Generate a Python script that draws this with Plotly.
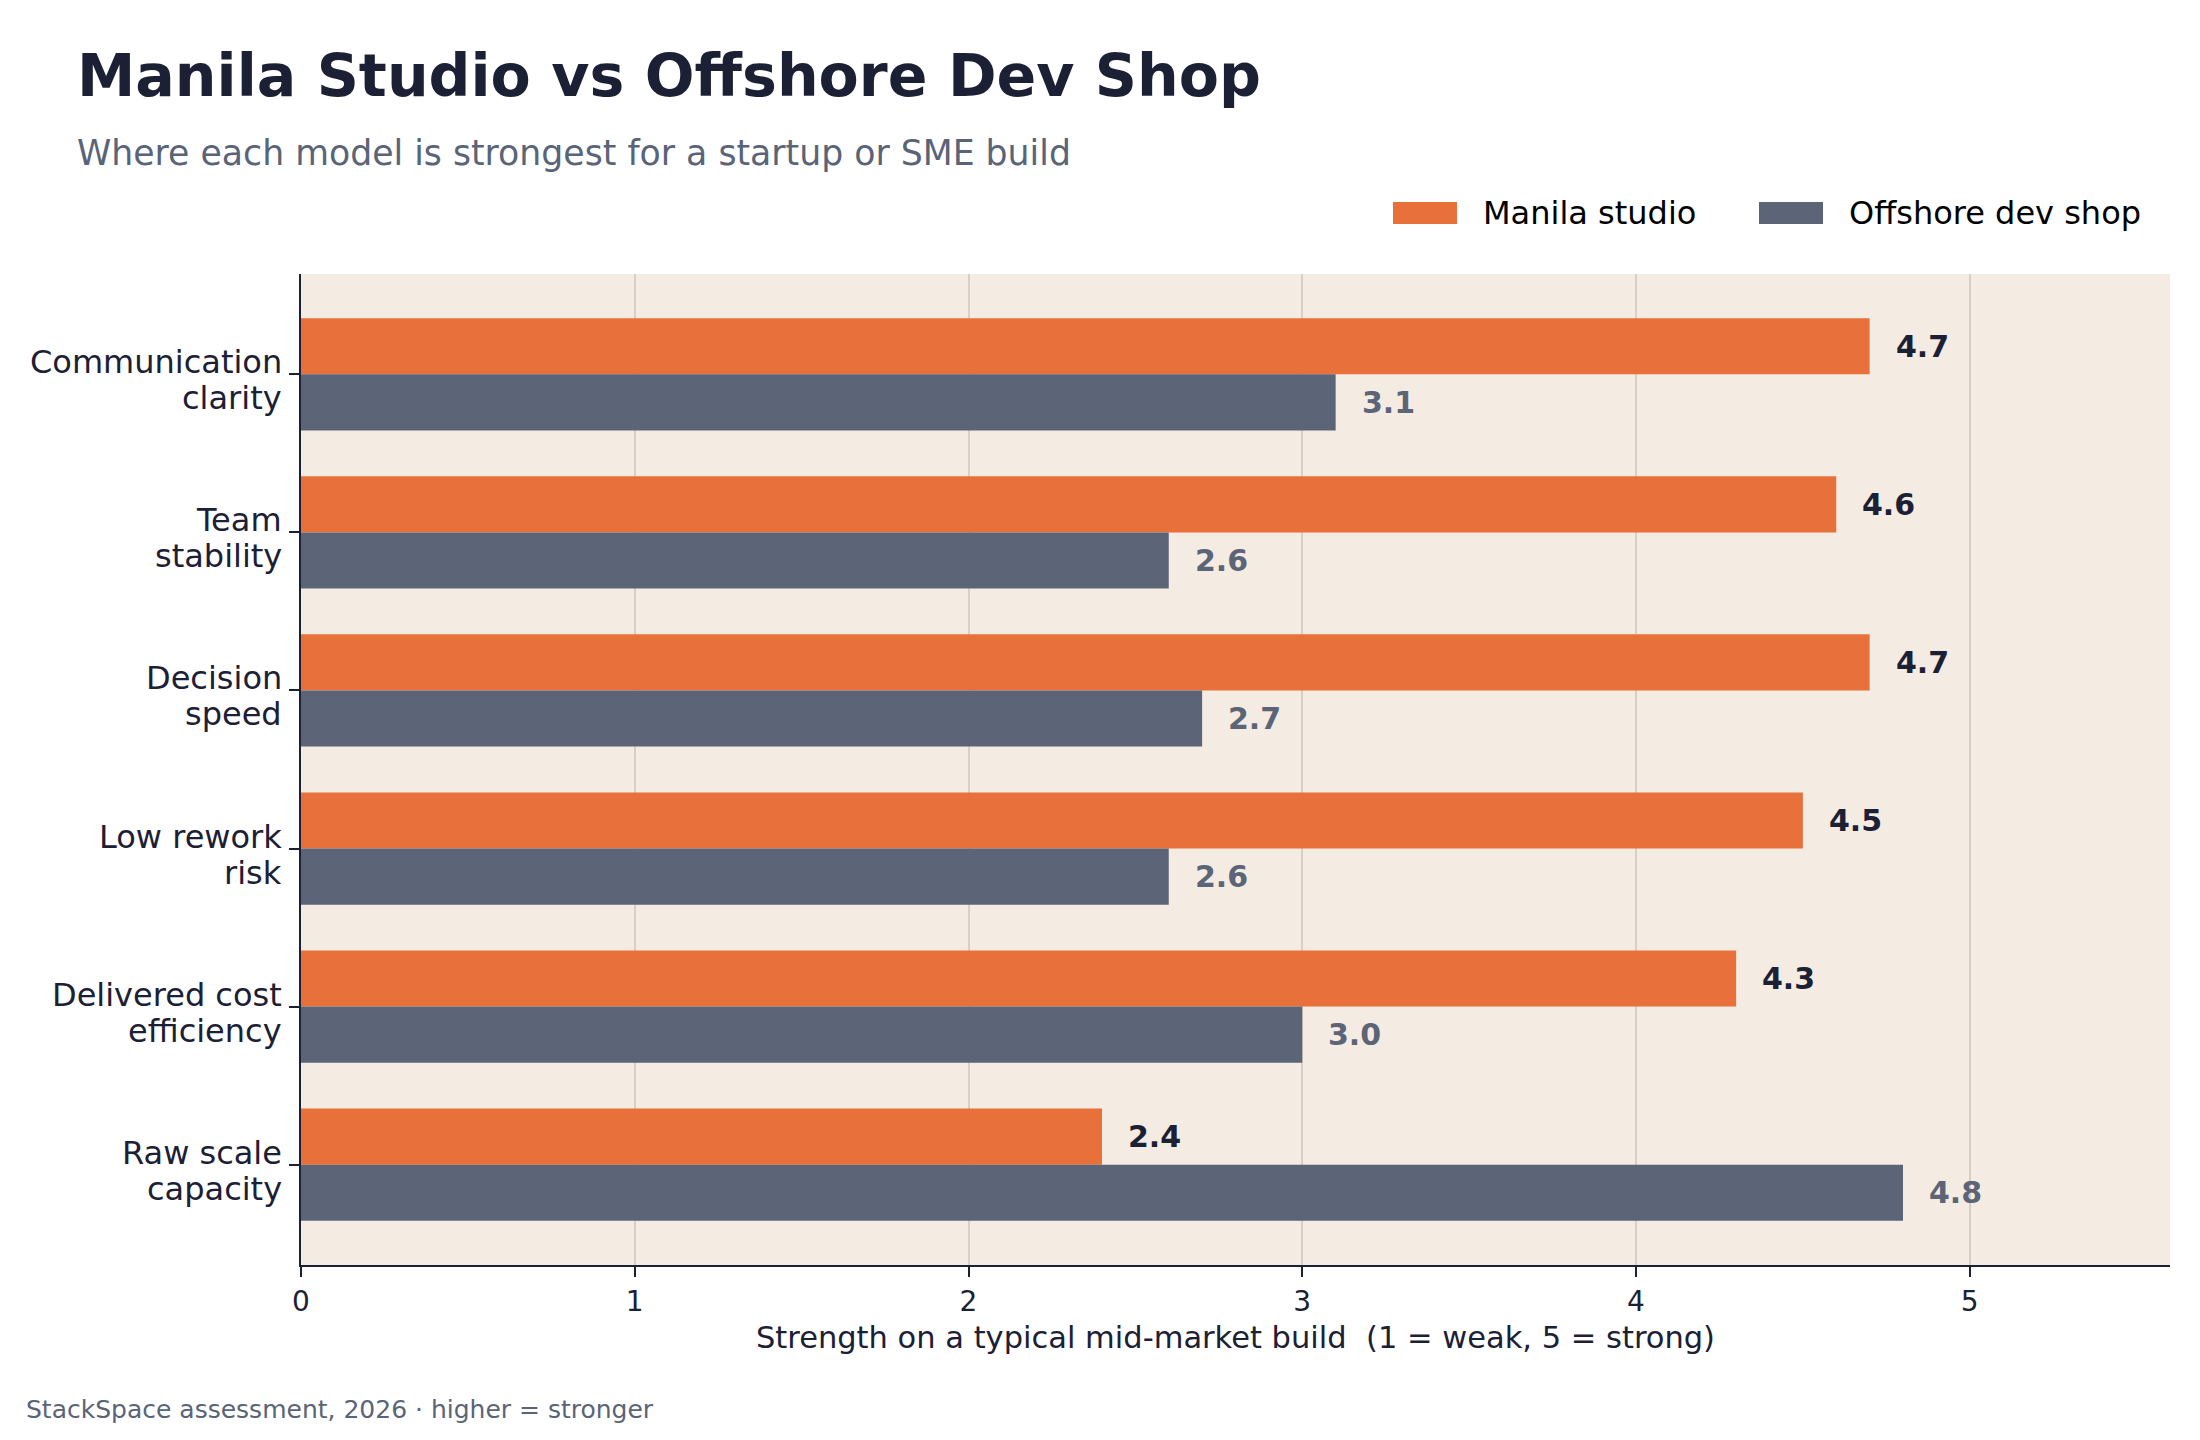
import plotly.graph_objects as go

categories = ["Communication\nclarity", "Team\nstability", "Decision\nspeed",
              "Low rework\nrisk", "Delivered cost\nefficiency", "Raw scale\ncapacity"]
manila = [4.7, 4.6, 4.7, 4.5, 4.3, 2.4]
offshore = [3.1, 2.6, 2.7, 2.6, 3.0, 4.8]
series_names = ["Manila studio", "Offshore dev shop"]
x_ticks = [0, 1, 2, 3, 4, 5]

ORANGE = "#e8703a"
GRAY = "#5c6478"
NAVY = "#1c2035"
SUB = "#5a6478"
BG = "#f4ece2"
GRID = "#d9d0c2"
FONT = "DejaVu Sans"

W, H = 2200, 1440
L, R, T, B = 301, 30, 274, 175
PW, PH = W - L - R, H - T - B

def px(x):
    return (x - L) / PW

def py(y):
    return (H - B - y) / PH

BW = 0.355
idx = list(range(len(categories)))
y_m = [i - BW / 2 for i in idx]
y_o = [i + BW / 2 for i in idx]

fig = go.Figure()
fig.add_trace(go.Bar(x=manila, y=y_m, orientation="h", width=BW, marker_color=ORANGE,
                     marker_line_width=0, name=series_names[0], showlegend=False))
fig.add_trace(go.Bar(x=offshore, y=y_o, orientation="h", width=BW, marker_color=GRAY,
                     marker_line_width=0, name=series_names[1], showlegend=False))

annotations = []
for v, y in zip(manila, y_m):
    annotations.append(dict(x=v, y=y, xref="x", yref="y", text=f"<b>{v:.1f}</b>",
                            showarrow=False, xanchor="left", yanchor="middle", xshift=24,
                            font=dict(family=FONT, size=30, color=NAVY)))
for v, y in zip(offshore, y_o):
    annotations.append(dict(x=v, y=y, xref="x", yref="y", text=f"<b>{v:.1f}</b>",
                            showarrow=False, xanchor="left", yanchor="middle", xshift=24,
                            font=dict(family=FONT, size=30, color=GRAY)))

# category labels (two lines each, matplotlib-like line spacing)
for i, cat in zip(idx, categories):
    lines = cat.split("\n")
    shifts = [12, -24] if len(lines) == 2 else [0]
    for line, s in zip(lines, shifts):
        annotations.append(dict(x=px(284), y=i, xref="paper", yref="y", text=line,
                                showarrow=False, xanchor="right", yanchor="middle", yshift=s,
                                font=dict(family=FONT, size=32, color=NAVY)))

# title, subtitle, footer
annotations.append(dict(x=px(75), y=py(76), xref="paper", yref="paper", xanchor="left", yanchor="middle",
                        text="<b>Manila Studio vs Offshore Dev Shop</b>", showarrow=False,
                        font=dict(family=FONT, size=58.6, color=NAVY)))
annotations.append(dict(x=px(75), y=py(153), xref="paper", yref="paper", xanchor="left", yanchor="middle",
                        text="Where each model is strongest for a startup or SME build", showarrow=False,
                        font=dict(family=FONT, size=34.7, color=SUB)))
annotations.append(dict(x=px(24), y=py(1409), xref="paper", yref="paper", xanchor="left", yanchor="middle",
                        text="StackSpace assessment, 2026 · higher = stronger", showarrow=False,
                        font=dict(family=FONT, size=25, color=SUB)))

# legend (manual)
shapes = []
for (x0, x1, tx, name, col) in [(1393, 1457, 1481, series_names[0], ORANGE),
                                 (1759, 1823, 1847, series_names[1], GRAY)]:
    shapes.append(dict(type="rect", xref="paper", yref="paper", x0=px(x0), x1=px(x1),
                       y0=py(224), y1=py(202), fillcolor=col, line_width=0))
    annotations.append(dict(x=px(tx), y=py(213), xref="paper", yref="paper", xanchor="left",
                            yanchor="middle", text=name, showarrow=False,
                            font=dict(family=FONT, size=32, color="#000000")))

fig.update_layout(
    width=W, height=H,
    margin=dict(l=L, r=R, t=T, b=B, autoexpand=False),
    paper_bgcolor="white", plot_bgcolor=BG,
    barmode="overlay",
    font=dict(family=FONT, color=NAVY),
    annotations=annotations, shapes=shapes,
    showlegend=False,
)
fig.update_xaxes(range=[0, 5.6], tickvals=x_ticks, ticktext=[str(t) for t in x_ticks],
                 showgrid=True, gridcolor=GRID, gridwidth=2, zeroline=False,
                 showline=True, linecolor=NAVY, linewidth=2,
                 ticks="outside", ticklen=10, tickwidth=2, tickcolor=NAVY,
                 tickfont=dict(family=FONT, size=28, color=NAVY),
                 title=dict(text="Strength on a typical mid-market build  (1 = weak, 5 = strong)",
                            font=dict(family=FONT, size=30.5, color=NAVY), standoff=10))
fig.update_yaxes(range=[5.635, -0.635], tickvals=idx, showticklabels=False,
                 showgrid=False, zeroline=False,
                 showline=True, linecolor=NAVY, linewidth=2,
                 ticks="outside", ticklen=10, tickwidth=2, tickcolor=NAVY)

fig.write_html("out.html")
